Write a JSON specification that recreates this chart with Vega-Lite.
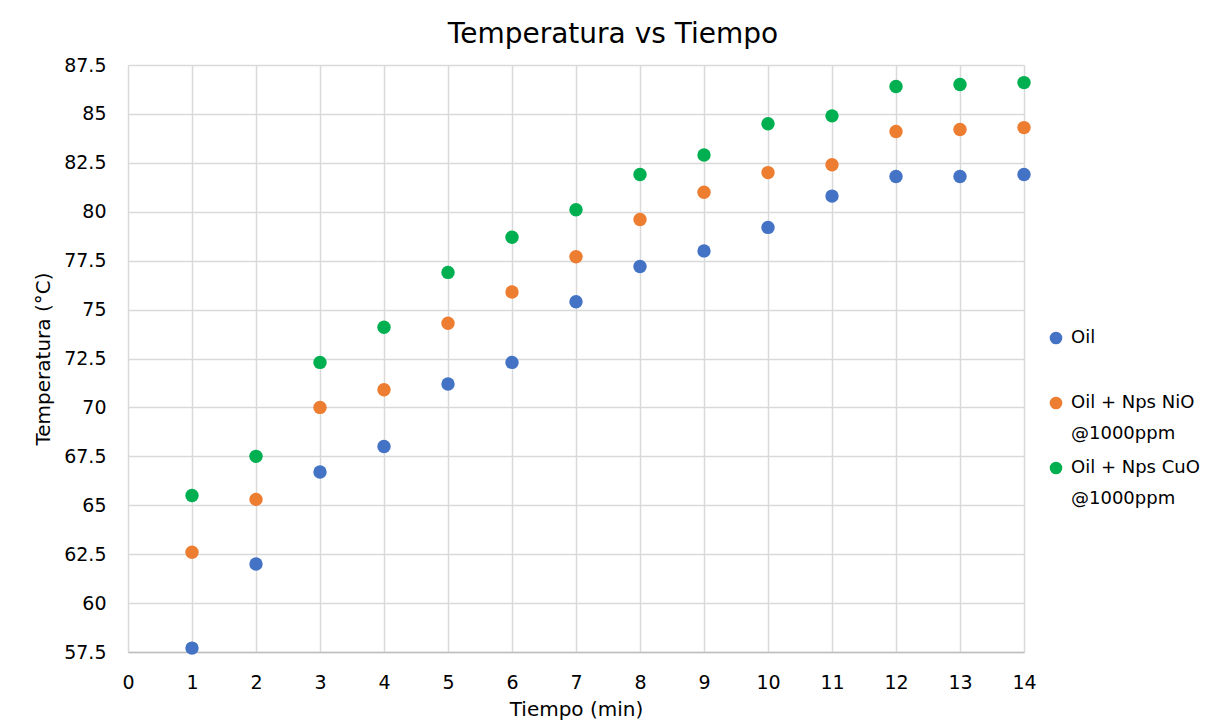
{
  "$schema": "https://vega.github.io/schema/vega-lite/v6.json",
  "width": 896,
  "height": 587,
  "autosize": {"type": "none"},
  "padding": {"left": 128, "top": 65, "right": 201, "bottom": 72},
  "background": "white",
  "title": {"text": "Temperatura vs Tiempo", "fontSize": 28, "font": "DejaVu Sans", "fontWeight": "normal", "color": "#000000", "anchor": "middle", "offset": 7, "dx": 37},
  "data": {"values": [
    {"t": 1, "temp": 57.7, "serie": "Oil"},
    {"t": 2, "temp": 62.0, "serie": "Oil"},
    {"t": 3, "temp": 66.7, "serie": "Oil"},
    {"t": 4, "temp": 68.0, "serie": "Oil"},
    {"t": 5, "temp": 71.2, "serie": "Oil"},
    {"t": 6, "temp": 72.3, "serie": "Oil"},
    {"t": 7, "temp": 75.4, "serie": "Oil"},
    {"t": 8, "temp": 77.2, "serie": "Oil"},
    {"t": 9, "temp": 78.0, "serie": "Oil"},
    {"t": 10, "temp": 79.2, "serie": "Oil"},
    {"t": 11, "temp": 80.8, "serie": "Oil"},
    {"t": 12, "temp": 81.8, "serie": "Oil"},
    {"t": 13, "temp": 81.8, "serie": "Oil"},
    {"t": 14, "temp": 81.9, "serie": "Oil"},
    {"t": 1, "temp": 62.6, "serie": "Oil + Nps NiO @1000ppm"},
    {"t": 2, "temp": 65.3, "serie": "Oil + Nps NiO @1000ppm"},
    {"t": 3, "temp": 70.0, "serie": "Oil + Nps NiO @1000ppm"},
    {"t": 4, "temp": 70.9, "serie": "Oil + Nps NiO @1000ppm"},
    {"t": 5, "temp": 74.3, "serie": "Oil + Nps NiO @1000ppm"},
    {"t": 6, "temp": 75.9, "serie": "Oil + Nps NiO @1000ppm"},
    {"t": 7, "temp": 77.7, "serie": "Oil + Nps NiO @1000ppm"},
    {"t": 8, "temp": 79.6, "serie": "Oil + Nps NiO @1000ppm"},
    {"t": 9, "temp": 81.0, "serie": "Oil + Nps NiO @1000ppm"},
    {"t": 10, "temp": 82.0, "serie": "Oil + Nps NiO @1000ppm"},
    {"t": 11, "temp": 82.4, "serie": "Oil + Nps NiO @1000ppm"},
    {"t": 12, "temp": 84.1, "serie": "Oil + Nps NiO @1000ppm"},
    {"t": 13, "temp": 84.2, "serie": "Oil + Nps NiO @1000ppm"},
    {"t": 14, "temp": 84.3, "serie": "Oil + Nps NiO @1000ppm"},
    {"t": 1, "temp": 65.5, "serie": "Oil + Nps CuO @1000ppm"},
    {"t": 2, "temp": 67.5, "serie": "Oil + Nps CuO @1000ppm"},
    {"t": 3, "temp": 72.3, "serie": "Oil + Nps CuO @1000ppm"},
    {"t": 4, "temp": 74.1, "serie": "Oil + Nps CuO @1000ppm"},
    {"t": 5, "temp": 76.9, "serie": "Oil + Nps CuO @1000ppm"},
    {"t": 6, "temp": 78.7, "serie": "Oil + Nps CuO @1000ppm"},
    {"t": 7, "temp": 80.1, "serie": "Oil + Nps CuO @1000ppm"},
    {"t": 8, "temp": 81.9, "serie": "Oil + Nps CuO @1000ppm"},
    {"t": 9, "temp": 82.9, "serie": "Oil + Nps CuO @1000ppm"},
    {"t": 10, "temp": 84.5, "serie": "Oil + Nps CuO @1000ppm"},
    {"t": 11, "temp": 84.9, "serie": "Oil + Nps CuO @1000ppm"},
    {"t": 12, "temp": 86.4, "serie": "Oil + Nps CuO @1000ppm"},
    {"t": 13, "temp": 86.5, "serie": "Oil + Nps CuO @1000ppm"},
    {"t": 14, "temp": 86.6, "serie": "Oil + Nps CuO @1000ppm"}
  ]},
  "mark": {"type": "circle", "size": 180, "opacity": 1},
  "encoding": {
    "x": {"field": "t", "type": "quantitative", "title": "Tiempo (min)",
      "scale": {"domain": [0, 14], "nice": false, "zero": false},
      "axis": {"values": [0,1,2,3,4,5,6,7,8,9,10,11,12,13,14], "labelOverlap": false, "labelFlush": false}},
    "y": {"field": "temp", "type": "quantitative", "title": "Temperatura (°C)",
      "scale": {"domain": [57.5, 87.5], "nice": false, "zero": false},
      "axis": {"values": [57.5,60,62.5,65,67.5,70,72.5,75,77.5,80,82.5,85,87.5], "format": ".1~f", "labelOverlap": false, "labelFlush": false}},
    "color": {"field": "serie", "type": "nominal", "title": null,
      "scale": {"domain": ["Oil", "Oil + Nps NiO @1000ppm", "Oil + Nps CuO @1000ppm"], "range": ["#4472C4", "#ED7D31", "#00B050"]},
      "legend": {"orient": "none", "legendX": 919, "legendY": 264,
        "labelExpr": "datum.label == 'Oil' ? ['Oil', ' '] : [substring(datum.label, 0, 13), '@1000ppm']",
        "encode": {"labels": {"update": {"lineHeight": {"value": 31}}}}}}
  },
  "config": {
    "font": "DejaVu Sans",
    "view": {"stroke": null},
    "axis": {
      "grid": true, "gridColor": "#D9D9D9", "gridWidth": 1.5,
      "domain": false, "ticks": false,
      "labelFont": "DejaVu Sans", "labelFontSize": 19, "labelColor": "#000000",
      "titleFont": "DejaVu Sans", "titleFontSize": 20, "titleFontWeight": "normal", "titleColor": "#000000"
    },
    "axisX": {"labelPadding": 21, "titlePadding": 7, "domain": true, "domainColor": "#BFBFBF", "domainWidth": 1.5},
    "axisY": {"labelPadding": 22, "titlePadding": 10},
    "legend": {
      "labelFont": "DejaVu Sans", "labelFontSize": 18, "labelColor": "#000000", "labelLimit": 300,
      "symbolType": "circle", "symbolSize": 160, "symbolOpacity": 1,
      "rowPadding": 16, "labelOffset": 6, "labelBaseline": "middle"
    }
  }
}
